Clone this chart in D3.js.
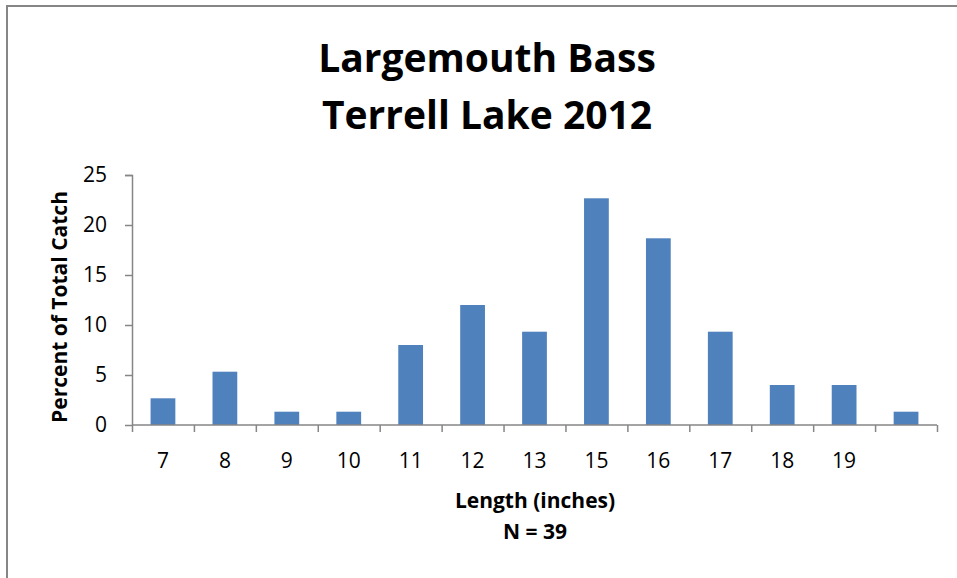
<!DOCTYPE html>
<html>
<head>
<meta charset="utf-8">
<script src="https://cdn.jsdelivr.net/npm/d3@7"></script>
<style>
  body { margin: 0; background: #fff; }
  text { font-family: "Open Sans", "Liberation Sans", sans-serif; fill: #000; }
  .tick line, .domain { stroke: #868686; }
</style>
</head>
<body>
<div id="chart"></div>
<script>
// data
var lengths = ["7", "8", "9", "10", "11", "12", "13", "15", "16", "17", "18", "19", ""];
var percent = [2.67, 5.33, 1.33, 1.33, 8.0, 12.0, 9.33, 22.67, 18.67, 9.33, 4.0, 4.0, 1.33];
var yTicks = [0, 5, 10, 15, 20, 25];

var svgWidth = 957, svgHeight = 578;
var margin = { top: 175, right: 20, bottom: 153, left: 132 };
var width = 937 - margin.left;
var height = svgHeight - margin.top - margin.bottom;

var svg = d3.select("#chart").append("svg")
  .attr("width", svgWidth)
  .attr("height", svgHeight);

// chart frame (only top and left edges show)
svg.append("line").attr("x1", 6).attr("x2", svgWidth).attr("y1", 6).attr("y2", 6)
  .attr("stroke", "#868686").attr("stroke-width", 2);
svg.append("line").attr("x1", 7).attr("x2", 7).attr("y1", 5).attr("y2", svgHeight)
  .attr("stroke", "#868686").attr("stroke-width", 2);

var chartGroup = svg.append("g")
  .attr("transform", `translate(${margin.left}, ${margin.top})`);

var idx = d3.range(lengths.length);
var xScale = d3.scaleBand().domain(idx).range([0, width]).paddingInner(0.6).paddingOuter(0.3);
var xTickScale = d3.scaleLinear().domain([0, idx.length]).range([0, width]);
var yScale = d3.scaleLinear().domain([0, 25]).range([height, 0]);

// bars
chartGroup.selectAll("rect")
  .data(percent)
  .enter()
  .append("rect")
  .attr("x", (d, i) => xScale(i))
  .attr("y", d => yScale(d))
  .attr("width", xScale.bandwidth())
  .attr("height", d => height - yScale(d))
  .attr("fill", "#4F81BD");

// y axis
var leftAxis = d3.axisLeft(yScale).tickValues(yTicks).tickSize(7).tickPadding(18);
var yAx = chartGroup.append("g").call(leftAxis);
yAx.selectAll("text").style("font-size", "21px");
yAx.select(".domain").attr("d", `M-7,0.5H0.5V${height}`).attr("stroke-width", 1.5);

// x axis: ticks between categories, labels in the band centres
var bottomAxis = d3.axisBottom(xTickScale).tickValues(d3.range(idx.length + 1)).tickSize(7).tickFormat("");
var xAx = chartGroup.append("g").attr("transform", `translate(0, ${height})`).call(bottomAxis);
xAx.select(".domain").attr("d", `M0,0H${width}`).attr("stroke-width", 1.5);
xAx.selectAll(".tick line").attr("stroke-width", 1.5);
yAx.selectAll(".tick line").attr("stroke-width", 1.5);

chartGroup.selectAll(".xlab")
  .data(lengths)
  .enter()
  .append("text")
  .attr("class", "xlab")
  .attr("x", (d, i) => xScale(i) + xScale.bandwidth() / 2)
  .attr("y", height + 43)
  .attr("text-anchor", "middle")
  .style("font-size", "21px")
  .text(d => d);

// titles
svg.append("text")
  .attr("x", 487).attr("y", 72)
  .attr("text-anchor", "middle")
  .style("font-size", "39px").style("font-weight", "bold")
  .text("Largemouth Bass");
svg.append("text")
  .attr("x", 487).attr("y", 129)
  .attr("text-anchor", "middle")
  .style("font-size", "39px").style("font-weight", "bold")
  .text("Terrell Lake 2012");

// axis labels
svg.append("text")
  .attr("transform", "translate(67, 307) rotate(-90)")
  .attr("text-anchor", "middle")
  .style("font-size", "21px").style("font-weight", "bold")
  .text("Percent of Total Catch");
svg.append("text")
  .attr("x", 535).attr("y", 508)
  .attr("text-anchor", "middle")
  .style("font-size", "21px").style("font-weight", "bold")
  .text("Length (inches)");
svg.append("text")
  .attr("x", 535).attr("y", 539)
  .attr("text-anchor", "middle")
  .style("font-size", "21px").style("font-weight", "bold")
  .text("N = 39");
</script>
</body>
</html>
